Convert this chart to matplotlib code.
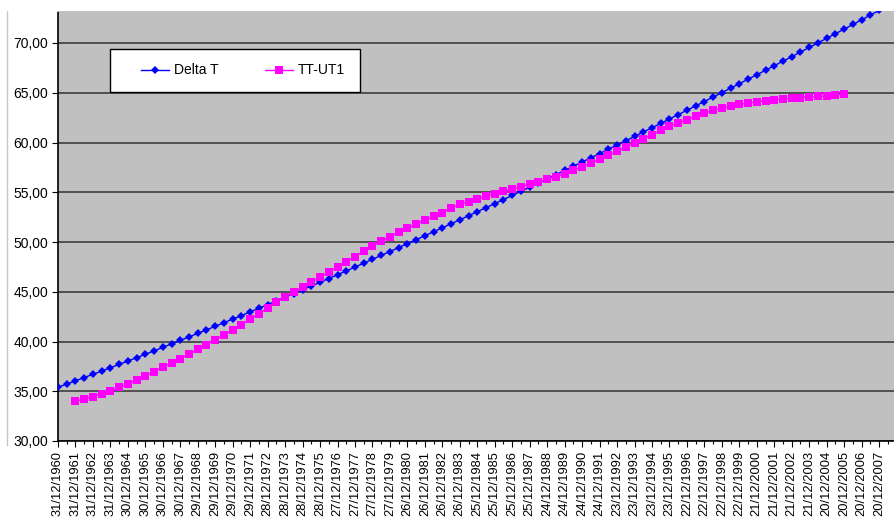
import matplotlib
matplotlib.use("Agg")
import matplotlib.pyplot as plt
from matplotlib.lines import Line2D
from matplotlib.patches import Rectangle
import numpy as np

# half-year steps starting at 31/12/1960
delta_t = [
    35.40, 35.72, 36.05, 36.38, 36.70, 37.03, 37.37, 37.70, 38.04, 38.37,
    38.72, 39.06, 39.41, 39.76, 40.11, 40.46, 40.82, 41.17, 41.53, 41.89,
    42.25, 42.61, 42.98, 43.34, 43.71, 44.08, 44.45, 44.82, 45.20, 45.57,
    45.95, 46.33, 46.71, 47.09, 47.48, 47.87, 48.26, 48.65, 49.04, 49.44,
    49.84, 50.23, 50.63, 51.03, 51.43, 51.83, 52.23, 52.64, 53.05, 53.45,
    53.86, 54.27, 54.68, 55.10, 55.51, 55.93, 56.35, 56.77, 57.19, 57.61,
    58.04, 58.46, 58.89, 59.32, 59.75, 60.18, 60.61, 61.05, 61.48, 61.92,
    62.36, 62.80, 63.24, 63.68, 64.12, 64.57, 65.01, 65.46, 65.91, 66.36,
    66.81, 67.26, 67.72, 68.17, 68.63, 69.09, 69.55, 70.01, 70.47, 70.93,
    71.40, 71.86, 72.33, 72.80, 73.27, 73.74, 74.21,
]

# TT-UT1 starts at the third category (31/12/1961)
tt_ut1_start = 2
tt_ut1 = [
    33.99, 34.23, 34.47, 34.75, 35.03, 35.38, 35.73, 36.13, 36.54, 36.98,
    37.43, 37.86, 38.29, 38.74, 39.20, 39.69, 40.18, 40.67, 41.17, 41.70,
    42.23, 42.80, 43.37, 43.93, 44.49, 44.99, 45.48, 45.97, 46.46, 46.99,
    47.52, 48.02, 48.53, 49.06, 49.59, 50.07, 50.54, 50.96, 51.38, 51.78,
    52.17, 52.57, 52.96, 53.38, 53.79, 54.07, 54.34, 54.61, 54.87, 55.10,
    55.32, 55.57, 55.82, 56.06, 56.30, 56.58, 56.86, 57.22, 57.57, 57.94,
    58.31, 58.72, 59.12, 59.55, 59.98, 60.38, 60.78, 61.21, 61.63, 61.96,
    62.29, 62.63, 62.97, 63.22, 63.47, 63.65, 63.83, 63.96, 64.09, 64.20,
    64.30, 64.39, 64.47, 64.52, 64.57, 64.63, 64.69, 64.77, 64.85,
]

# one label every two categories
date_labels = [
    "31/12/1960", "31/12/1961", "31/12/1962", "31/12/1963", "30/12/1964",
    "30/12/1965", "30/12/1966", "30/12/1967", "29/12/1968", "29/12/1969",
    "29/12/1970", "29/12/1971", "28/12/1972", "28/12/1973", "28/12/1974",
    "28/12/1975", "27/12/1976", "27/12/1977", "27/12/1978", "27/12/1979",
    "26/12/1980", "26/12/1981", "26/12/1982", "26/12/1983", "25/12/1984",
    "25/12/1985", "25/12/1986", "25/12/1987", "24/12/1988", "24/12/1989",
    "24/12/1990", "24/12/1991", "23/12/1992", "23/12/1993", "23/12/1994",
    "23/12/1995", "22/12/1996", "22/12/1997", "22/12/1998", "22/12/1999",
    "21/12/2000", "21/12/2001", "21/12/2002", "21/12/2003", "20/12/2004",
    "20/12/2005", "20/12/2006", "20/12/2007", "19/12/2008",
]
y_ticks = [30, 35, 40, 45, 50, 55, 60, 65, 70]

plt.rcParams["font.family"] = ["Liberation Sans", "DejaVu Sans"]

W, H = 894, 518
fig = plt.figure(figsize=(W / 100, H / 100), dpi=100)
fig.patch.set_facecolor("white")

left, right, top, bottom = 58, 894, 11, 441
ax = fig.add_axes([left / W, (H - bottom) / H, (right - left) / W, (bottom - top) / H])
ax.set_facecolor("#C0C0C0")

x_dt = np.arange(len(delta_t))
x_tt = np.arange(tt_ut1_start, tt_ut1_start + len(tt_ut1))

ax.plot(x_dt, delta_t, color="#0000FF", linewidth=1.0, marker="D", markersize=4.4,
        markeredgewidth=0, label="Delta T", zorder=3)
ax.plot(x_tt, tt_ut1, color="#FF00FF", linewidth=1.0, marker="s", markersize=5.6,
        markeredgewidth=0, label="TT-UT1", zorder=3)

ax.set_yticks(y_ticks)
ax.set_yticklabels([f"{v:.2f}".replace(".", ",") for v in y_ticks], fontsize=10)
ax.yaxis.grid(True, color="#333333", linewidth=1.1)
ax.set_axisbelow(True)

ax.set_xticks(np.arange(0, 2 * len(date_labels), 2))
ax.set_xticklabels(date_labels, rotation=90, fontsize=9.3)
ax.set_xticks(np.arange(1, 2 * len(date_labels), 2), minor=True)
ax.tick_params(axis="x", which="major", direction="out", length=4, width=0.8, pad=3)
ax.tick_params(axis="x", which="minor", direction="out", length=2, width=0.8)
ax.tick_params(axis="y", direction="out", length=4, width=0.8, pad=3)

# limits after the ticks, otherwise set_xticks widens the view
ax.set_xlim(0, (right - left) / 8.735)
ax.set_ylim(30, 30 + (bottom - top) / 9.95)

for s in ("top", "right"):
    ax.spines[s].set_visible(False)
for s in ("left", "bottom"):
    ax.spines[s].set_color("black")
    ax.spines[s].set_linewidth(1.2)
    ax.spines[s].set_linestyle((0, (1, 1)))

# chart-area border line on the far left
fig.add_artist(Line2D([7 / W, 7 / W], [(H - 445) / H, (H - 11) / H],
                      color="#C8C8C8", linewidth=1.0))

# legend box
fig.add_artist(Rectangle((110 / W, (H - 92) / H), 250 / W, 43 / H,
                         facecolor="white", edgecolor="black", linewidth=1.0,
                         transform=fig.transFigure, zorder=5))
leg = fig.legend(loc="center left", bbox_to_anchor=(134 / W, (H - 70.5) / H),
                 ncol=2, frameon=False, fontsize=10, handlelength=2.0,
                 handletextpad=0.4, columnspacing=3.3, borderpad=0)
leg.set_zorder(6)

fig.savefig("out.png", dpi=100)
